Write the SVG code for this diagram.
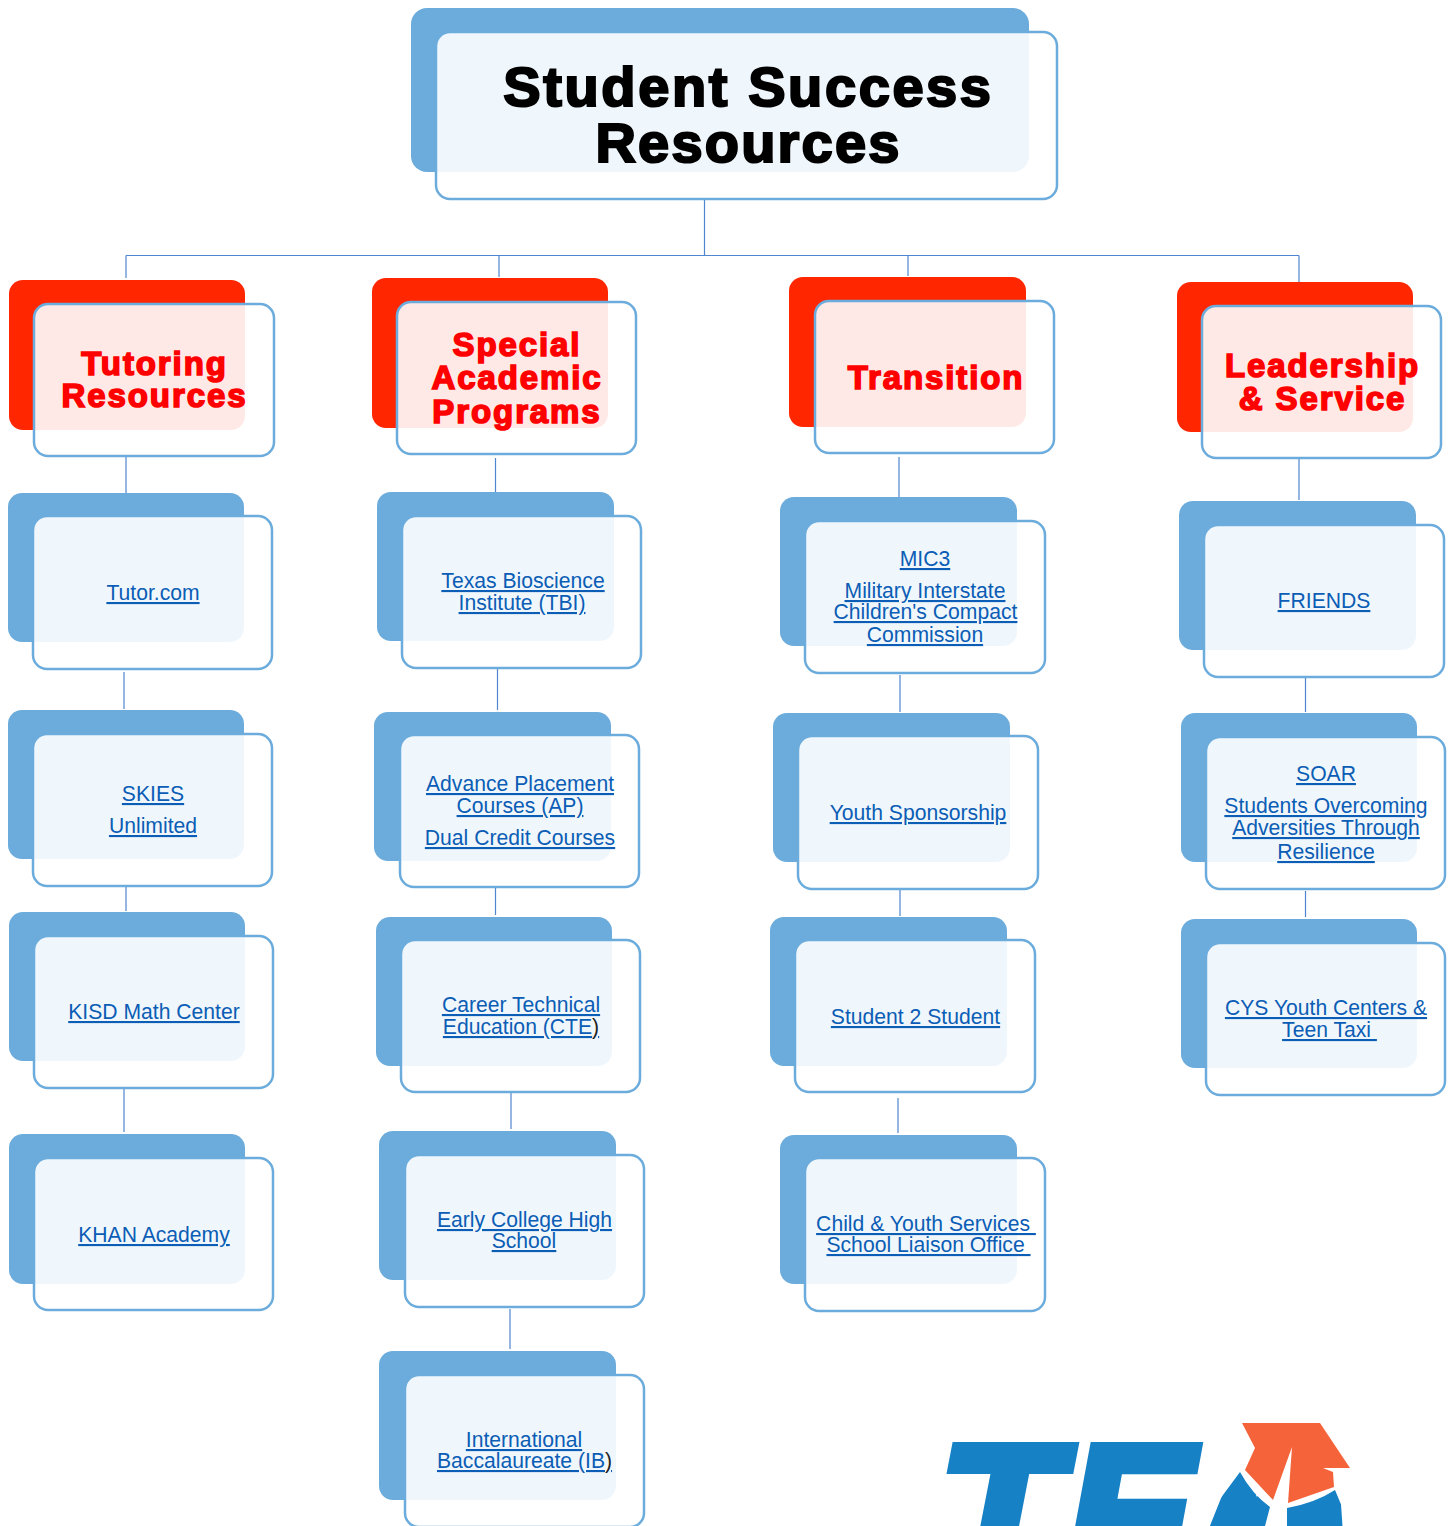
<svg xmlns="http://www.w3.org/2000/svg" width="1452" height="1526" viewBox="0 0 1452 1526">
<style>
.bb{fill:#6CACDC}
.br{fill:#FF2600}
.f{fill:#fff;fill-opacity:.9;stroke:#6CACDC;stroke-width:2.5}
.c{fill:none;stroke:#5085CF;stroke-width:1.2}
text{font-family:"Liberation Sans",Arial,sans-serif;text-anchor:middle;white-space:pre}
.t{font-size:56px;font-weight:700;letter-spacing:2.6px;fill:#000;stroke:#000;stroke-width:2.2}
.h{font-size:33px;font-weight:700;letter-spacing:1.9px;fill:#F00;stroke:#F00;stroke-width:1.6}
.l{font-size:21.15px;fill:#0B5DB5;text-decoration:underline;text-decoration-color:#0070CC;text-decoration-thickness:2.8px;text-underline-offset:1px}
.p{text-decoration:none;fill:#222}
.g{font-size:198px;font-weight:700;font-style:italic;text-anchor:start;fill:#1781C6;stroke:#1781C6}
</style>
<defs><clipPath id="a-clip"><path d="M1200 1526L1240 1472Q1252 1494 1270 1507Q1280 1510 1287 1508Q1315 1503 1335 1490L1350 1526Z"/></clipPath></defs>
<rect width="1452" height="1526" fill="#fff"/>
<g id="connectors">
<path class="c" d="M704.500 200V255.500M126 255.500H1299M126 255.500V278M499 255.500V277M908 255.500V276M1299 255.500V282"/>
<path class="c" d="M126 457V493M124 672V709M126 887V911M124 1089V1132"/>
<path class="c" d="M495.500 458V492M497.500 669V710M495.500 888V915M511 1093V1129M510 1309V1349"/>
<path class="c" d="M899 457V497M900 675V712M900 890V916M898 1098V1133"/>
<path class="c" d="M1299 459V500M1305.500 678V712M1305.500 891V917"/>
</g>
<g id="root"><rect class="bb" x="411" y="8" width="618" height="164" rx="16"/><rect class="f" x="436" y="32" width="621" height="167" rx="14"/><text class="t" x="748.500" y="106">Student Success</text><text class="t" x="748.500" y="162" style="letter-spacing:2.2px">Resources</text></g>

<g id="tutoring"><rect class="br" x="9" y="280" width="236" height="150" rx="14"/><rect class="f" x="34" y="304" width="240" height="152" rx="14"/><text class="h" x="154.500" y="375">Tutoring</text><text class="h" x="154.500" y="407">Resources</text></g>
<g id="special"><rect class="br" x="372" y="278" width="236" height="150" rx="14"/><rect class="f" x="397" y="302" width="239" height="152" rx="14"/><text class="h" x="517" y="356">Special</text><text class="h" x="517" y="389">Academic</text><text class="h" x="517" y="423">Programs</text></g>
<g id="transition"><rect class="br" x="789" y="277" width="237" height="150" rx="14"/><rect class="f" x="815" y="301" width="239" height="152" rx="14"/><text class="h" x="936" y="389">Transition</text></g>
<g id="leadership"><rect class="br" x="1177" y="282" width="236" height="150" rx="14"/><rect class="f" x="1202" y="306" width="239" height="152" rx="14"/><text class="h" x="1322.500" y="377">Leadership</text><text class="h" x="1322.500" y="410">&amp; Service</text></g>

<g id="tutor-com"><rect class="bb" x="8" y="493" width="236" height="149" rx="14"/><rect class="f" x="33" y="516" width="239" height="153" rx="14"/><text class="l" x="153" y="600">Tutor.com</text></g>
<g id="skies"><rect class="bb" x="8" y="710" width="236" height="149" rx="14"/><rect class="f" x="33" y="734" width="239" height="152" rx="14"/><text class="l" x="153" y="801">SKIES</text><text class="l" x="153" y="833">Unlimited</text></g>
<g id="kisd"><rect class="bb" x="9" y="912" width="236" height="149" rx="14"/><rect class="f" x="34" y="936" width="239" height="152" rx="14"/><text class="l" x="154" y="1019">KISD Math Center</text></g>
<g id="khan"><rect class="bb" x="9" y="1134" width="236" height="150" rx="14"/><rect class="f" x="34" y="1158" width="239" height="152" rx="14"/><text class="l" x="154" y="1242">KHAN Academy</text></g>

<g id="tbi"><rect class="bb" x="377" y="492" width="237" height="149" rx="14"/><rect class="f" x="402" y="516" width="239" height="152" rx="14"/><text class="l" x="523" y="588">Texas Bioscience</text><text class="l" x="522" y="610">Institute (TBI)</text></g>
<g id="ap"><rect class="bb" x="374" y="712" width="237" height="149" rx="14"/><rect class="f" x="400" y="735" width="239" height="152" rx="14"/><text class="l" x="520" y="791">Advance Placement</text><text class="l" x="520" y="813">Courses (AP)</text><text class="l" x="520" y="845">Dual Credit Courses</text></g>
<g id="cte"><rect class="bb" x="376" y="917" width="236" height="149" rx="14"/><rect class="f" x="401" y="940" width="239" height="152" rx="14"/><text class="l" x="521" y="1012">Career Technical</text><text class="l" x="521" y="1034">Education (CTE<tspan class="p">)</tspan></text></g>
<g id="echs"><rect class="bb" x="379" y="1131" width="237" height="149" rx="14"/><rect class="f" x="405" y="1155" width="239" height="152" rx="14"/><text class="l" x="524.500" y="1227">Early College High</text><text class="l" x="524" y="1248">School</text></g>
<g id="ib"><rect class="bb" x="379" y="1351" width="237" height="149" rx="14"/><rect class="f" x="405" y="1375" width="239" height="152" rx="14"/><text class="l" x="524" y="1447">International</text><text class="l" x="524.500" y="1468">Baccalaureate (IB<tspan class="p">)</tspan></text></g>

<g id="mic3"><rect class="bb" x="780" y="497" width="237" height="149" rx="14"/><rect class="f" x="805" y="521" width="240" height="152" rx="14"/><text class="l" x="925" y="566">MIC3</text><text class="l" x="925" y="598">Military Interstate</text><text class="l" x="925.500" y="619">Children's Compact</text><text class="l" x="925" y="642">Commission</text></g>
<g id="youth"><rect class="bb" x="773" y="713" width="237" height="149" rx="14"/><rect class="f" x="798" y="736" width="240" height="153" rx="14"/><text class="l" x="918" y="820">Youth Sponsorship</text></g>
<g id="s2s"><rect class="bb" x="770" y="917" width="237" height="149" rx="14"/><rect class="f" x="795" y="940" width="240" height="152" rx="14"/><text class="l" x="915.500" y="1024">Student 2 Student</text></g>
<g id="child"><rect class="bb" x="780" y="1135" width="237" height="149" rx="14"/><rect class="f" x="805" y="1158" width="240" height="153" rx="14"/><text class="l" x="926" y="1231">Child &amp; Youth Services </text><text class="l" x="928.500" y="1252">School Liaison Office </text></g>

<g id="friends"><rect class="bb" x="1179" y="501" width="237" height="149" rx="14"/><rect class="f" x="1204" y="525" width="240" height="152" rx="14"/><text class="l" x="1324" y="608">FRIENDS</text></g>
<g id="soar"><rect class="bb" x="1181" y="713" width="236" height="149" rx="14"/><rect class="f" x="1206" y="737" width="239" height="152" rx="14"/><text class="l" x="1326" y="781">SOAR</text><text class="l" x="1326" y="813">Students Overcoming</text><text class="l" x="1326" y="835">Adversities Through</text><text class="l" x="1326" y="859">Resilience</text></g>
<g id="cys"><rect class="bb" x="1181" y="919" width="236" height="149" rx="14"/><rect class="f" x="1206" y="943" width="239" height="152" rx="14"/><text class="l" x="1326" y="1015">CYS Youth Centers &amp;</text><text class="l" x="1329.500" y="1037">Teen Taxi </text></g>

<g id="tea-logo">
<text class="g" x="938.500" y="1584" stroke-width="10">T</text>
<text class="g" transform="translate(1066,1584) scale(.96,1)" stroke-width="10">E</text>
<g clip-path="url(#a-clip)"><text class="g" transform="translate(1170,1610) skewX(-9.4) scale(.64,1)" style="font-size:400px;font-style:normal;stroke:none">A</text></g>
<polygon points="1265,1526 1270,1507 1292,1447 1287,1508 1287,1526" fill="#fff"/>
<polygon points="1242,1423 1320,1423 1350,1468 1323,1468 1333,1472 1334,1487 1288,1503 1292,1447 1273,1500 1245,1470 1255,1448" fill="#F4633A"/>
</g>
</svg>
